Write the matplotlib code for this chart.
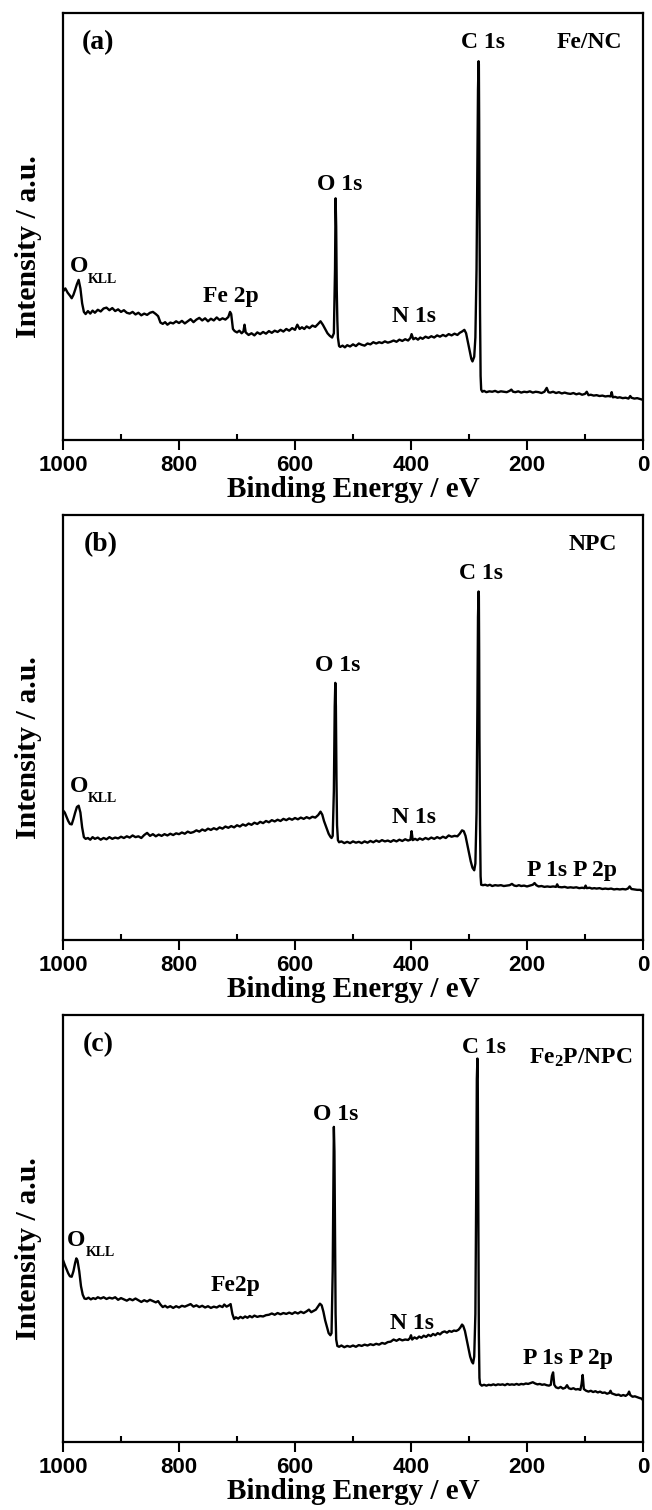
import matplotlib
matplotlib.use("Agg")
import matplotlib.pyplot as plt
from matplotlib.ticker import MultipleLocator

plt.rcParams['font.family'] = ['Liberation Serif', 'DejaVu Serif']
plt.rcParams['font.weight'] = 'bold'
plt.rcParams['mathtext.fontset'] = 'custom'
plt.rcParams['mathtext.rm'] = 'Liberation Serif:bold'
plt.rcParams['mathtext.bf'] = 'Liberation Serif:bold'

# (a) Fe/NC survey spectrum: binding energy (eV) and intensity (a.u.)
energy_a = [1000, 996, 992, 988, 985, 982, 979, 976, 973, 970, 967, 964, 961, 957, 953, 949, 945, 940,
            935, 930, 925, 920, 915, 910, 905, 900, 895, 890, 885, 880, 875, 870, 865, 860, 855, 850,
            845, 840, 836, 832, 828, 824, 820, 815, 810, 805, 800, 795, 790, 785, 780, 775, 770, 765,
            760, 755, 750, 745, 740, 735, 730, 725, 720, 715, 712, 710, 707, 704, 700, 696, 692, 689,
            687, 685, 680, 675, 670, 665, 660, 655, 650, 645, 640, 635, 630, 625, 620, 615, 610, 605,
            600, 596, 592, 588, 584, 580, 575, 570, 565, 560, 556, 552, 548, 544, 540, 536, 533, 531,
            530, 529, 528, 527, 526, 524, 522, 518, 514, 510, 505, 500, 495, 490, 485, 480, 475, 470,
            465, 460, 455, 450, 445, 440, 435, 430, 425, 420, 415, 410, 405, 401, 399, 396, 392, 388,
            384, 380, 375, 370, 365, 360, 355, 350, 345, 340, 335, 330, 325, 320, 316, 312, 308, 305,
            302, 299, 296, 294, 291, 289, 287, 285.5, 284.5, 283.5, 283, 282.5, 282, 281, 280, 279,
            277, 274, 270, 265, 260, 255, 250, 245, 240, 235, 230, 227, 224, 220, 215, 210, 205, 200,
            195, 190, 185, 180, 175, 170, 166, 163, 160, 155, 150, 145, 140, 135, 130, 125, 120, 115,
            110, 105, 100, 97, 94, 90, 85, 80, 75, 70, 65, 60, 56, 54, 52, 48, 44, 40, 35, 30, 25,
            22, 20, 15, 10, 5, 2, 0]
intensity_a = [34.8, 35.5, 34.5, 33.8, 33.2, 34.0, 35.2, 36.5, 37.5, 35.5, 32.0, 30.0, 29.5, 30.2, 29.6,
               30.3, 29.8, 30.5, 30.1, 30.8, 31.0, 30.4, 30.9, 30.2, 30.6, 30.0, 30.4, 29.8, 29.6,
               30.0, 29.4, 29.8, 29.2, 29.6, 29.3, 29.8, 30.0, 29.5, 29.0, 27.5, 27.2, 27.6, 27.0,
               27.5, 27.3, 27.8, 27.4, 27.9, 27.3, 27.8, 28.3, 27.6, 28.2, 28.6, 28.0, 28.5, 27.8,
               28.4, 28.0, 28.7, 28.1, 28.5, 28.2, 28.8, 30.0, 29.5, 26.0, 25.5, 25.2, 25.6, 25.0,
               25.4, 27.0, 25.2, 24.6, 25.0, 24.5, 25.2, 24.8, 25.3, 24.9, 25.5, 25.1, 25.6, 25.3,
               25.8, 25.4, 26.0, 25.6, 26.2, 25.8, 27.0, 26.0, 26.4, 26.0, 26.6, 26.2, 26.8, 26.5,
               27.2, 27.8, 27.0, 26.0, 25.0, 24.4, 24.0, 25.0, 40.0, 56.6, 50.0, 35.0, 28.0, 24.0,
               22.0, 21.8, 22.1, 21.7, 22.2, 21.9, 22.4, 22.0, 22.6, 22.3, 22.1, 22.6, 22.4, 22.9,
               22.6, 22.9, 22.7, 23.1, 22.8, 23.0, 23.3, 23.0, 23.5, 23.2, 23.6, 23.3, 23.9, 24.8,
               23.6, 23.9, 23.5, 24.0, 23.7, 24.2, 23.9, 24.3, 24.0, 24.5, 24.2, 24.6, 24.3, 24.8,
               24.5, 24.9, 24.6, 25.1, 25.4, 25.8, 25.0, 23.0, 21.0, 19.0, 18.4, 19.5, 24.0, 40.0,
               65.0, 82.0, 88.7, 88.0, 75.0, 55.0, 30.0, 15.0, 11.8, 11.3, 11.5, 11.2, 11.4, 11.3,
               11.5, 11.2, 11.4, 11.3, 11.2, 11.5, 11.8, 11.3, 11.2, 11.4, 11.1, 11.3, 11.2, 11.4,
               11.1, 11.3, 11.2, 11.0, 11.3, 12.2, 11.2, 11.1, 11.3, 11.0, 11.2, 10.9, 11.1, 10.9,
               10.8, 11.0, 10.7, 10.9, 10.6, 10.8, 11.3, 10.5, 10.6, 10.4, 10.5, 10.3, 10.4, 10.2,
               10.3, 10.2, 11.2, 10.0, 10.1, 9.9, 10.0, 9.8, 9.9, 9.7, 10.3, 9.9, 9.7, 9.8, 9.6,
               9.5, 9.4]

# (b) NPC
energy_b = [1000, 997, 994, 991, 988, 985, 982, 979, 976, 973, 970, 967, 964, 961, 957, 953, 949, 945,
            940, 935, 930, 925, 920, 915, 910, 905, 900, 895, 890, 885, 880, 875, 870, 865, 860, 855,
            850, 845, 840, 835, 830, 825, 820, 815, 810, 805, 800, 795, 790, 785, 780, 775, 770, 765,
            760, 755, 750, 745, 740, 735, 730, 725, 720, 715, 710, 705, 700, 695, 690, 685, 680, 675,
            670, 665, 660, 655, 650, 645, 640, 635, 630, 625, 620, 615, 610, 605, 600, 595, 590, 585,
            580, 575, 570, 565, 560, 556, 553, 550, 546, 542, 539, 537, 535, 533, 531.5, 530.5,
            529.5, 528.5, 527.5, 526, 524, 520, 515, 510, 505, 500, 495, 490, 485, 480, 475, 470,
            465, 460, 455, 450, 445, 440, 435, 430, 425, 420, 415, 410, 405, 401, 399, 397, 393, 389,
            385, 380, 375, 370, 365, 360, 355, 350, 345, 340, 335, 330, 325, 320, 316, 312, 309, 306,
            303, 300, 297, 294, 291, 289, 287, 285.5, 284.5, 283.5, 283, 282.5, 282, 281, 280, 279,
            276, 272, 268, 264, 260, 255, 250, 245, 240, 235, 230, 226, 222, 218, 214, 210, 205, 200,
            195, 190, 187, 184, 180, 175, 170, 165, 160, 155, 150, 148, 146, 140, 135, 130, 125, 120,
            115, 110, 105, 101, 99, 97, 92, 88, 84, 80, 75, 70, 65, 60, 55, 50, 45, 40, 35, 30, 26,
            23, 20, 15, 10, 5, 2, 0]
intensity_b = [30.5, 30.0, 29.0, 28.0, 27.3, 27.2, 28.5, 30.0, 31.3, 31.6, 30.0, 26.5, 24.2, 23.8, 24.0,
               23.6, 24.2, 23.8, 24.1, 23.6, 24.0, 23.7, 24.2, 23.8, 24.1, 23.9, 24.3, 24.0, 24.4,
               24.1, 24.6, 24.2, 24.4, 24.0, 24.7, 25.2, 24.5, 24.9, 24.4, 24.8, 24.5, 24.9, 24.6,
               25.0, 24.7, 25.1, 24.9, 25.3, 25.0, 25.5, 25.2, 25.4, 25.8, 25.5, 26.0, 25.7, 26.2,
               25.9, 26.3, 26.0, 26.5, 26.2, 26.7, 26.4, 26.8, 26.5, 27.0, 26.7, 27.2, 26.9, 27.4,
               27.1, 27.6, 27.3, 27.8, 27.5, 28.0, 27.7, 28.2, 27.9, 28.3, 28.0, 28.5, 28.2, 28.6,
               28.3, 28.7, 28.4, 28.8, 28.5, 28.9, 28.6, 29.0, 28.8, 29.4, 30.2, 29.5, 28.0, 26.5,
               25.0, 24.3, 24.0, 24.5, 35.0, 55.0, 60.5, 55.0, 38.0, 27.0, 23.5, 23.0, 23.2, 22.8,
               23.1, 22.8, 23.2, 22.9, 23.1, 22.8, 23.2, 22.9, 23.3, 23.0, 23.4, 23.1, 23.5, 23.2,
               23.4, 23.1, 23.5, 23.2, 23.6, 23.3, 23.7, 23.4, 23.6, 25.6, 23.5, 23.8, 23.5, 23.9,
               23.6, 24.0, 23.7, 24.1, 23.8, 24.2, 23.9, 24.3, 24.0, 24.6, 24.3, 24.5, 24.4, 25.0,
               25.8, 25.6, 24.5, 22.5, 20.5, 18.5, 17.0, 16.4, 18.0, 30.0, 55.0, 76.0, 82.0, 81.0,
               68.0, 48.0, 27.0, 15.0, 13.0, 12.9, 13.0, 12.8, 13.0, 12.7, 12.9, 12.8, 12.9, 12.7,
               12.8, 12.9, 13.2, 12.8, 12.7, 12.9, 12.7, 12.8, 12.6, 12.8, 13.0, 13.4, 12.9, 12.6,
               12.7, 12.5, 12.6, 12.5, 12.6, 12.5, 13.1, 12.5, 12.4, 12.5, 12.3, 12.4, 12.3, 12.4,
               12.2, 12.3, 12.2, 12.8, 12.2, 12.3, 12.1, 12.2, 12.1, 12.2, 12.0, 12.1, 12.0, 12.1,
               11.9, 12.0, 11.9, 12.0, 11.9, 12.1, 12.6, 12.0, 11.9, 11.8, 11.8, 11.6, 11.4]

# (c) Fe2P/NPC
energy_c = [1000, 997, 994, 991, 988, 985, 982, 979, 977, 975, 972, 969, 966, 963, 960, 956, 952, 948,
            944, 940, 935, 930, 925, 920, 915, 910, 905, 900, 895, 890, 885, 880, 875, 870, 865, 860,
            855, 850, 845, 840, 836, 832, 828, 824, 820, 815, 810, 805, 800, 795, 790, 785, 780, 775,
            770, 765, 760, 755, 750, 745, 740, 735, 730, 725, 722, 718, 714, 711, 708, 705, 702, 698,
            694, 690, 686, 682, 678, 674, 670, 665, 660, 655, 650, 645, 640, 635, 630, 625, 620, 615,
            610, 605, 600, 595, 590, 585, 580, 576, 572, 568, 564, 560, 557, 554, 551, 548, 545, 542,
            539, 537, 535, 533.5, 533, 532, 531, 530, 529, 527, 524, 520, 515, 510, 505, 500, 495,
            490, 485, 480, 475, 470, 465, 460, 455, 450, 445, 440, 435, 430, 425, 420, 415, 410, 405,
            402, 400, 398, 394, 390, 386, 382, 378, 374, 370, 366, 362, 358, 354, 350, 346, 342, 338,
            334, 330, 326, 322, 318, 315, 312, 310, 307, 304, 301, 298, 295, 293, 291, 289, 287.5,
            286.5, 285.5, 285, 284.5, 284, 283, 282, 281, 278, 274, 270, 266, 262, 258, 254, 250,
            246, 242, 238, 234, 230, 226, 222, 218, 214, 210, 206, 202, 198, 194, 190, 186, 182, 178,
            174, 170, 166, 162, 159, 157, 155, 153, 150, 146, 142, 138, 134, 131, 128, 124, 120, 116,
            112, 108, 106, 104, 102, 98, 94, 90, 86, 82, 78, 74, 70, 66, 62, 58, 56, 54, 50, 46, 42,
            38, 34, 30, 26, 24, 22, 18, 14, 10, 6, 3, 0]
intensity_c = [42.6, 41.5, 40.5, 39.5, 38.8, 38.7, 40.0, 42.0, 43.0, 42.5, 40.0, 36.5, 34.5, 33.6, 33.5,
               33.8, 33.4, 33.7, 33.5, 33.9, 33.6, 33.9, 33.5, 33.8, 33.6, 33.9, 33.3, 33.7, 33.4,
               33.1, 33.5, 33.2, 33.6, 33.2, 32.8, 33.2, 32.9, 33.3, 33.0, 32.7, 33.0, 32.2, 31.6,
               31.9, 31.5, 31.8, 31.4, 31.8, 31.5, 31.9, 31.7, 32.0, 32.3, 31.7, 32.0, 31.6, 31.9,
               31.5, 31.8, 31.4, 31.7, 31.5, 31.9, 31.6, 32.2, 31.7, 32.0, 32.3, 30.0, 28.8, 29.2,
               28.9, 29.3, 29.0, 29.4, 29.1, 29.5, 29.2, 29.6, 29.3, 29.5, 29.4, 29.7, 29.8, 30.1,
               29.8, 30.2, 29.9, 30.2, 30.0, 30.3, 30.0, 30.4, 30.1, 30.5, 30.2, 30.6, 31.0, 30.4,
               30.7, 31.0, 31.8, 32.4, 32.0, 30.5, 28.5, 27.0, 25.5, 25.0, 25.5, 40.0, 65.0, 73.8,
               68.0, 50.0, 30.0, 24.0, 22.5, 22.3, 22.6, 22.2, 22.5, 22.3, 22.6, 22.3, 22.7, 22.5,
               22.8, 22.6, 22.9, 22.7, 23.0, 22.8, 23.2, 23.0, 23.4, 23.5, 24.0, 23.7, 24.1, 23.8,
               24.0, 23.9, 24.3, 25.0, 24.0, 24.5, 24.2, 24.7, 24.4, 24.9, 24.6, 25.1, 24.8, 25.3,
               25.0, 25.5, 25.2, 25.7, 25.9, 25.6, 26.0, 25.8, 26.1, 26.0, 26.3, 26.8, 27.5, 27.2,
               26.0, 24.0, 22.0, 20.0, 18.8, 18.4, 20.0, 30.0, 60.0, 85.0, 89.8, 88.0, 72.0, 50.0,
               25.0, 15.0, 13.6, 13.2, 13.4, 13.2, 13.4, 13.3, 13.5, 13.3, 13.5, 13.4, 13.5, 13.3,
               13.6, 13.4, 13.5, 13.4, 13.6, 13.4, 13.6, 13.5, 13.7, 13.6, 13.8, 14.0, 13.7, 13.5,
               13.6, 13.4, 13.5, 13.3, 13.2, 13.4, 15.5, 16.3, 13.4, 12.8, 12.6, 12.9, 12.5, 12.7,
               13.3, 12.6, 12.4, 12.6, 12.3, 12.4, 12.2, 13.5, 15.7, 12.4, 12.0, 11.8, 12.0, 11.7,
               11.9, 11.6, 11.8, 11.5, 11.6, 11.3, 11.5, 12.0, 11.4, 11.2, 11.0, 11.1, 10.8, 11.0,
               10.8, 11.2, 11.8, 11.0, 10.6, 10.7, 10.5, 10.3, 10.2, 9.8]

W, H = 652, 1510
fig = plt.figure(figsize=(W / 100, H / 100), dpi=100)


def make_axes(top_px, bottom_px):
    left, right = 63, 643
    ax = fig.add_axes([left / W, 1 - bottom_px / H, (right - left) / W, (bottom_px - top_px) / H])
    ax.set_xlim(1000, 0)
    ax.set_ylim(0, 100)
    ax.set_yticks([])
    ax.xaxis.set_major_locator(MultipleLocator(200))
    ax.xaxis.set_minor_locator(MultipleLocator(100))
    ax.tick_params(axis='x', which='major', direction='out', length=7, width=1.5, pad=4)
    ax.tick_params(axis='x', which='minor', direction='in', length=4, width=1.5)
    for lab in ax.get_xticklabels():
        lab.set_fontfamily('Liberation Sans')
        lab.set_fontweight('bold')
        lab.set_fontsize(16)
    for sp in ax.spines.values():
        sp.set_linewidth(1.6)
    ax.set_xlabel('Binding Energy / eV', fontsize=21, fontweight='bold', labelpad=0)
    ax.set_ylabel('Intensity / a.u.', fontsize=21.5, fontweight='bold')
    ax.yaxis.set_label_coords(-0.036, 0.452)
    return ax


def put(ax, x, y, s, ha='center', size=17):
    ax.text(x, y, s, ha=ha, va='center', fontsize=size, fontweight='bold')


def put_okll(ax, x, y):
    # "O" with a small, low "KLL" subscript
    ax.text(x, y, 'O', ha='left', va='center', fontsize=17, fontweight='bold')
    ax.annotate('KLL', xy=(x, y), xytext=(13.5, -9), textcoords='offset points',
                ha='left', va='center', fontsize=10, fontweight='bold')


# panel (a)
ax = make_axes(13, 440)
ax.plot(energy_a, intensity_a, color='black', lw=1.7)
put(ax, 939, 93, '(a)', size=20)
put(ax, 92, 93, 'Fe/NC')
put(ax, 276, 93, 'C 1s')
put(ax, 523, 59.8, 'O 1s')
put_okll(ax, 989, 40.6)
put(ax, 710, 33.6, 'Fe 2p')
put(ax, 394, 28.9, 'N 1s')

# panel (b)
ax = make_axes(515, 940)
ax.plot(energy_b, intensity_b, color='black', lw=1.7)
put(ax, 935, 93, '(b)', size=20)
put(ax, 86, 93, 'NPC')
put(ax, 280, 86.3, 'C 1s')
put(ax, 527, 64.5, 'O 1s')
put_okll(ax, 989, 36.2)
put(ax, 394, 28.9, 'N 1s')
put(ax, 122, 16.4, 'P 1s P 2p')

# panel (c)
ax = make_axes(1015, 1442)
ax.plot(energy_c, intensity_c, color='black', lw=1.7)
put(ax, 939, 93, '(c)', size=20)
put(ax, 107, 90.0, r'$\mathrm{Fe_2P/NPC}$')
put(ax, 275, 92.3, 'C 1s')
put(ax, 530, 76.6, 'O 1s')
put_okll(ax, 993, 47.2)
put(ax, 703, 36.7, 'Fe2p')
put(ax, 398, 27.7, 'N 1s')
put(ax, 129, 19.5, 'P 1s P 2p')

fig.savefig('out.png', dpi=100)
